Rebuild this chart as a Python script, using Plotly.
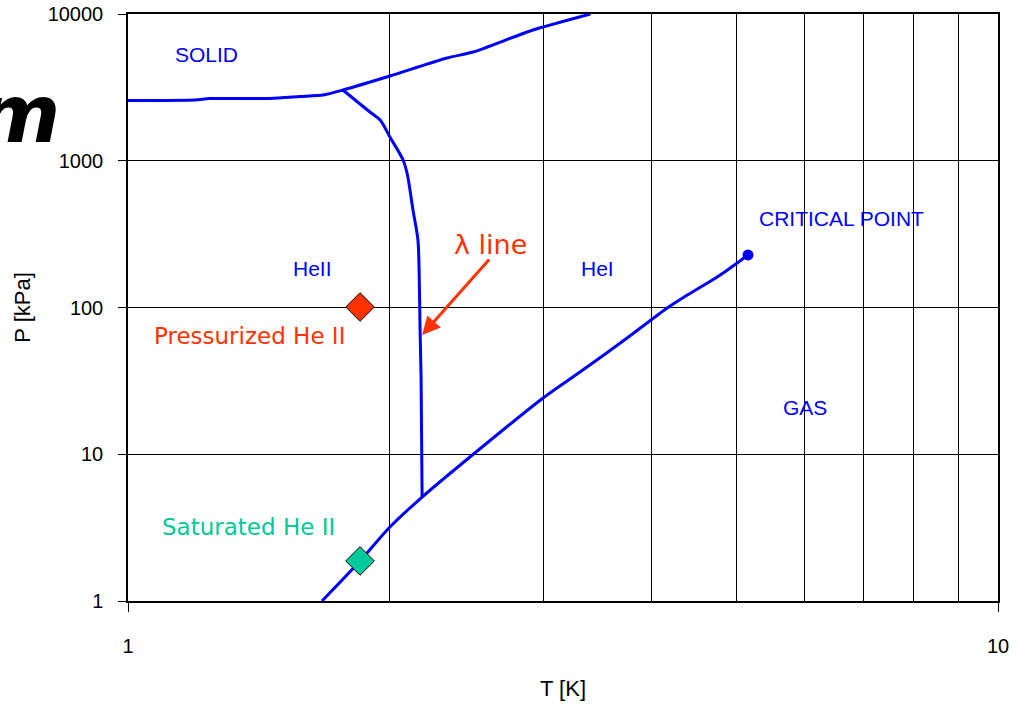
import numpy as np
import plotly.graph_objects as go

# ---- data (T in K, P in kPa) ----
melt_T = [1.0, 1.194, 1.242, 1.456, 1.577, 1.676, 1.766, 2.0, 2.326, 2.493, 2.921, 3.40]
melt_P = [2575, 2594, 2656, 2656, 2741, 2806, 3034, 3782, 5013, 5508, 7780, 10000]

lambda_T = [1.766, 1.897, 1.949, 2.0, 2.071, 2.093, 2.126, 2.154, 2.161, 2.166, 2.172, 2.178]
lambda_P = [3034, 2149, 1896, 1452, 1012, 825, 462, 288, 172, 73.6, 33.6, 5.11]

vap_T = [1.671, 1.848, 2.0, 2.178, 2.472, 3.0, 3.37, 3.747, 4.175, 4.39, 4.79, 5.16]
vap_P = [1.0, 1.874, 3.19, 5.11, 9.58, 24.2, 39.3, 62.0, 100, 121, 166, 228]

crit_T, crit_P = [5.16], [228]
pressurized_T, pressurized_P = [1.848], [100.8]
saturated_T, saturated_P = [1.848], [1.874]

region_labels = ["SOLID", "HeII", "HeI", "CRITICAL POINT", "GAS"]
region_T = [1.232, 1.628, 3.46, 6.60, 6.0]
region_P = [5337, 183, 183, 407, 20.7]

x_ticks = [1, 10]
x_minor = [2, 3, 4, 5, 6, 7, 8, 9]
y_ticks = [1, 10, 100, 1000, 10000]

BLUE = "#0000FF"
RED = "#FF3300"
GREEN = "#00C99A"
SANS = "Liberation Sans"

fig = go.Figure()
for tx, py, sm in [(melt_T, melt_P, 0.6), (lambda_T, lambda_P, 0.9), (vap_T, vap_P, 0.8)]:
    fig.add_trace(go.Scatter(x=tx, y=py, mode="lines",
                             line=dict(color=BLUE, width=3, shape="spline",
                                       smoothing=sm),
                             showlegend=False, hoverinfo="skip"))
fig.add_trace(go.Scatter(x=crit_T, y=crit_P, mode="markers",
                         marker=dict(color=BLUE, size=11), showlegend=False))
fig.add_trace(go.Scatter(x=pressurized_T, y=pressurized_P, mode="markers",
                         marker=dict(symbol="diamond", color=RED, size=22,
                                     line=dict(color="black", width=1)),
                         showlegend=False))
fig.add_trace(go.Scatter(x=saturated_T, y=saturated_P, mode="markers",
                         marker=dict(symbol="diamond", color=GREEN, size=22,
                                     line=dict(color="black", width=1)),
                         showlegend=False))

L = np.log10
annotations = []
for txt, t, p in zip(region_labels, region_T, region_P):
    annotations.append(dict(x=L(t), y=L(p), xref="x", yref="y", text=txt,
                            showarrow=False,
                            font=dict(family=SANS, size=21, color=BLUE)))
annotations.append(dict(x=L(2.61), y=L(267), xref="x", yref="y", text="λ line",
                        showarrow=False,
                        font=dict(family="DejaVu Sans", size=27, color=RED)))
annotations.append(dict(x=L(2.178), y=L(65), xref="x", yref="y", text="",
                        showarrow=True, axref="x", ayref="y",
                        ax=L(2.61), ay=L(217), arrowhead=2, arrowsize=1.2,
                        arrowwidth=3, arrowcolor=RED))
annotations.append(dict(x=L(1.381), y=L(64), xref="x", yref="y",
                        text="Pressurized He II", showarrow=False,
                        font=dict(family="DejaVu Sans", size=23, color=RED)))
annotations.append(dict(x=L(1.374), y=L(3.19), xref="x", yref="y",
                        text="Saturated He II", showarrow=False,
                        font=dict(family="DejaVu Sans", size=23, color=GREEN)))
annotations.append(dict(x=-0.076, y=0.828, xref="paper", yref="paper",
                        xanchor="right", yanchor="middle", text="m",
                        showarrow=False,
                        font=dict(family="DejaVu Sans", size=80, color="black",
                                  weight="bold", style="italic")))

fig.update_layout(
    width=1019, height=709,
    margin=dict(l=128, r=21, t=14, b=108, autoexpand=False),
    paper_bgcolor="white", plot_bgcolor="white",
    annotations=annotations,
    font=dict(family=SANS, color="black"),
    xaxis=dict(type="log", range=[0, 1], tickvals=x_ticks, ticktext=["1", "10"],
               ticks="outside", ticklen=9, tickcolor="black", ticklabelstandoff=17,
               tickfont=dict(size=20), automargin=False,
               showgrid=False, showline=True, linecolor="black", linewidth=1.5,
               mirror=True, zeroline=False,
               minor=dict(tickvals=x_minor, showgrid=True, gridcolor="black",
                          gridwidth=1, ticks=""),
               title=dict(text="T [K]", font=dict(size=22), standoff=25)),
    yaxis=dict(type="log", range=[0, 4], tickvals=y_ticks,
               ticktext=["1", "10", "100", "1000", "10000"],
               ticks="outside", ticklen=8, tickcolor="black", ticklabelstandoff=11,
               tickfont=dict(size=20), automargin=False,
               showgrid=True, gridcolor="black", gridwidth=1,
               showline=True, linecolor="black", linewidth=1.5, mirror=True,
               zeroline=False,
               title=dict(text="P [kPa]", font=dict(size=22), standoff=11)),
)

fig.write_html("out.html", config={"displayModeBar": False},
               post_script="document.body.style.margin='0';")
